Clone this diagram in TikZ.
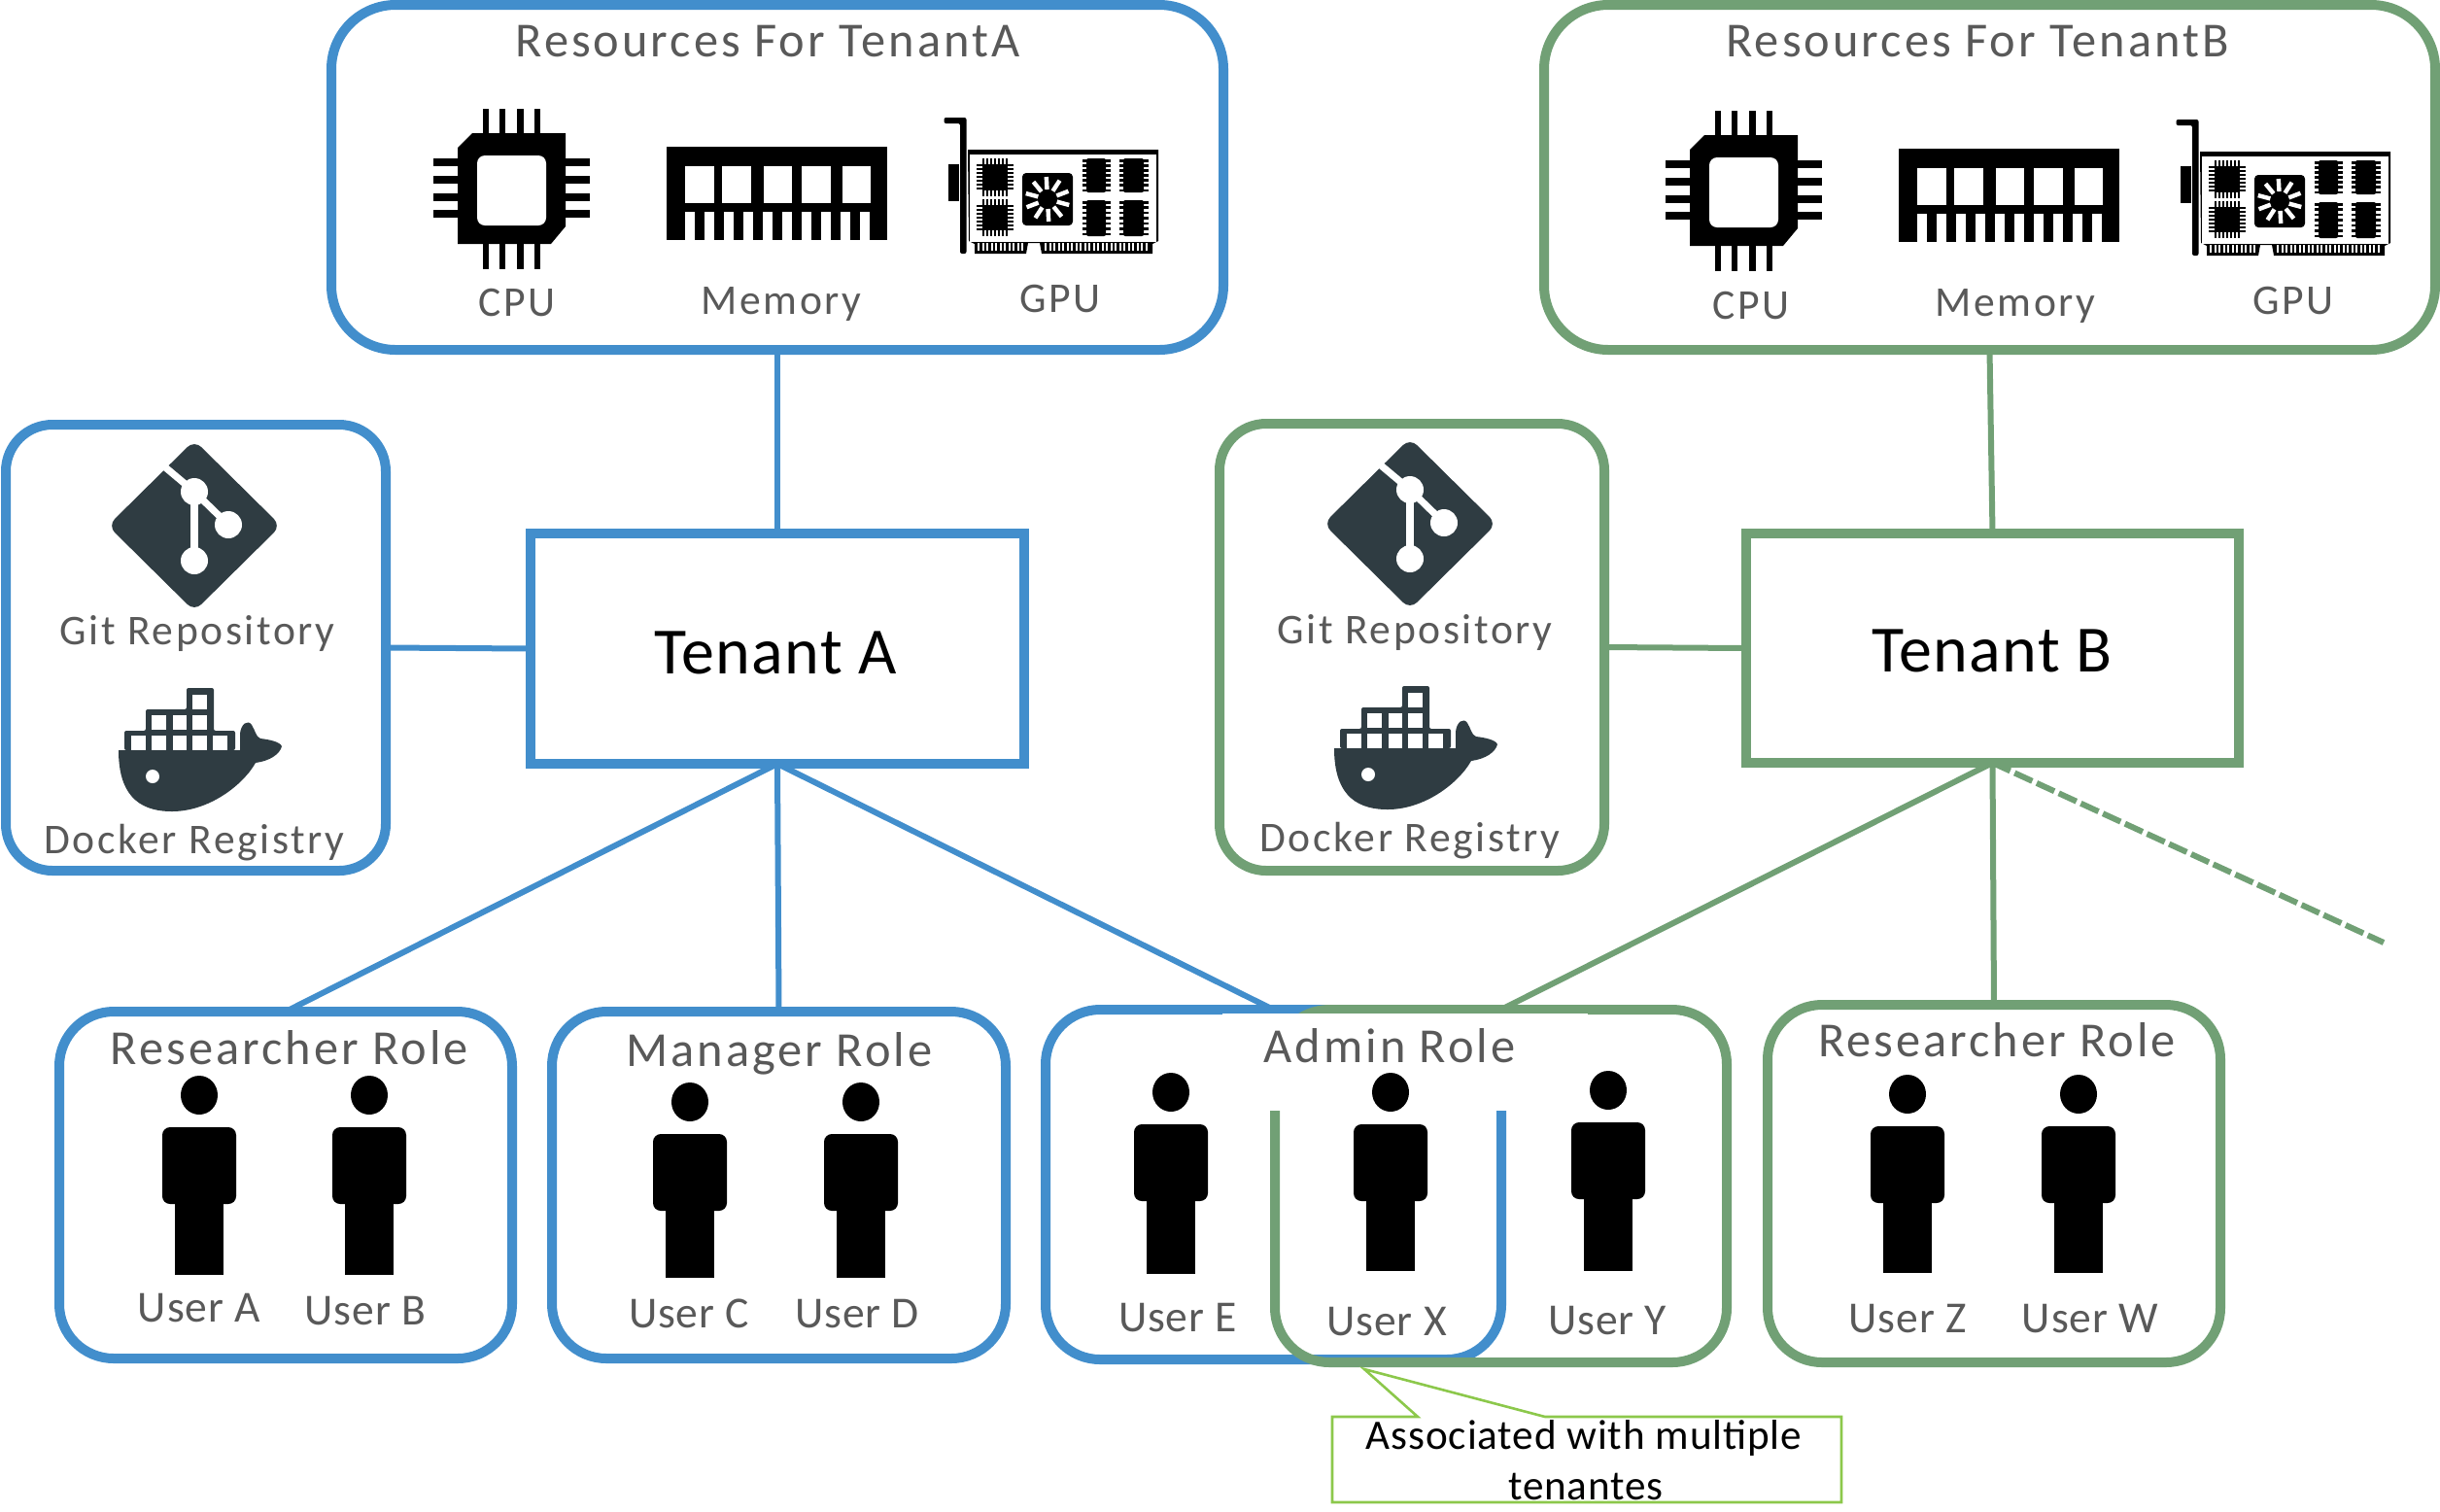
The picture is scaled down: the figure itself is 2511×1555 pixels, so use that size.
\documentclass[tikz,border=0pt]{standalone}
\usepackage{fontspec}
\setmainfont{Carlito}
\newfontfamily\lab[LetterSpace=6]{Carlito}
\newfontfamily\labw[LetterSpace=2]{Carlito}
\definecolor{tblue}{RGB}{66,142,204}
\definecolor{tgreen}{RGB}{113,160,117}
\definecolor{tgray}{RGB}{89,89,89}
\definecolor{cgreen}{RGB}{140,200,75}
\definecolor{tdark}{RGB}{47,60,66}
\tikzset{
  boxb/.style={draw,line width=5pt,fill=white,inner sep=0pt,outer sep=0pt,rectangle},
  resbox/.style={boxb,rounded corners=33pt},
  regbox/.style={boxb,rounded corners=24pt},
  rolebox/.style={boxb,rounded corners=28pt},
  tenbox/.style={boxb,line width=4.6pt},
  conn/.style={line width=3pt},
  title/.style={font=\lab\fontsize{25.2}{30}\selectfont,text=tgray,inner sep=0pt},
  sub/.style={font=\lab\fontsize{21.8}{26}\selectfont,text=tgray,inner sep=0pt},
  rolet/.style={font=\lab\fontsize{25.2}{30}\selectfont,text=tgray,inner sep=0pt},
  usert/.style={font=\labw\fontsize{22.8}{27}\selectfont,text=tgray,inner sep=0pt},
  tent/.style={font=\labw\fontsize{34}{40}\selectfont,text=black,inner sep=0pt},
  callt/.style={font=\labw\fontsize{21.6}{26}\selectfont,text=black,inner sep=0pt},
}
\newcommand\Bx[6]{\node[#6,minimum width={(#4-#2)*0.5pt},minimum height={(#5-#3)*0.5pt}] (#1) at ({(#2+#4)/2},{(#3+#5)/2}) {};}
\newcommand\Person[3]{\begin{scope}[shift={(#1,#2)}]
  \fill[black] (0,0) ellipse [x radius=19,y radius=20];
  \fill[black,rounded corners=4pt] (-38,33) rectangle (38,112);
  \fill[black] (-25,100) rectangle (25,#3);
\end{scope}}
\newcommand\IconCPU{%
  \fill[black] (486,137) -- (582,137) -- (582,233) -- (567,251) -- (471,251) -- (471,152) -- cycle;
  \fill[white,rounded corners=4pt] (491,160) rectangle (562,232);
  \foreach \xx in {500,517,535.5,553} {
    \fill[black] ({\xx-3.2},112) rectangle ({\xx+3.2},137);
    \fill[black] ({\xx-3.2},251) rectangle ({\xx+3.2},277);}
  \foreach \yy in {167,185,203,220} {
    \fill[black] (445.5,{\yy-3.7}) rectangle (471,{\yy+3.7});
    \fill[black] (582,{\yy-3.7}) rectangle (607,{\yy+3.7});}
}
\newcommand\IconMem{%
  \fill[black] (686,151) rectangle (913,247);
  \foreach \a/\b in {705/735,743/773,786/815,825/855,866.5/895.5}
    \fill[white] (\a,171) rectangle (\b,209);
  \foreach \i in {0,...,9}
    \fill[white] ({705.3+\i*20},218) rectangle ({714.8+\i*20},247.5);
}
\newcommand\SmallChip[4]{%
  \foreach \i in {0,...,6} {
    \fill[black] ({#1+\i*4},{#2-6}) rectangle ({#1+\i*4+2},{#4+6});
    \fill[black] ({#1-6},{#2+\i*4}) rectangle ({#3+6},{#2+\i*4+2});}
  \fill[black] (#1,#2) rectangle (#3,#4);
}
\newcommand\RamChip[4]{%
  \foreach \i in {0,...,6}
    \fill[black] ({#1-4.5},{#2+1+\i*(#4-#2-4.5)/6}) rectangle ({#3+4.5},{#2+3.5+\i*(#4-#2-4.5)/6});
  \fill[black,rounded corners=1pt] (#1,#2) rectangle (#3,#4);
}
\newcommand\IconGPU{%
  \fill[black,rounded corners=1pt] (971.5,121) -- (994.5,121) -- (994.5,261) -- (988,261) -- (988,127) -- (971.5,127) -- cycle;
  \fill[black] (976,169) rectangle (986.5,207);
  \fill[black] (996,154) -- (1192,154) -- (1192,248) -- (1186,251) -- (1186,261) -- (1072,261) -- (1070,250) -- (1058,250) -- (1056,261) -- (1003,261) -- (1003,251) -- (997,248) -- cycle;
  \fill[white] (998,159) rectangle (1189.5,249);
  \foreach \xx in {1006,1010.5,...,1052} \fill[white] (\xx,250) rectangle ({\xx+2.3},258);
  \foreach \xx in {1075,1079.5,...,1182} \fill[white] (\xx,250) rectangle ({\xx+2.3},258);
  \SmallChip{1011}{169}{1037}{196}
  \SmallChip{1011}{211}{1037}{237}
  \fill[black,rounded corners=2pt] (1052,178) rectangle (1104,232);
  \foreach \aa in {0,36,...,324}
    \draw[white,line width=2.2pt] ({1078+10*cos(\aa+15)},{205+10*sin(\aa+15)}) -- ({1078+23*cos(\aa+15)},{205+23*sin(\aa+15)});
  \RamChip{1118}{163}{1138}{198}
  \RamChip{1156}{163}{1177}{198}
  \RamChip{1118}{206}{1138}{243}
  \RamChip{1156}{206}{1177}{243}
}
\newcommand\IconGit{%
  \fill[tdark,rounded corners=5pt] (200,453) -- (289,541) -- (200,629) -- (111,541) -- cycle;
  \draw[white,line width=3.6pt] (169,480) -- (200,506) -- (235,540);
  \draw[white,line width=3.6pt] (200,506) -- (200,577);
  \fill[white] (200,506) circle [radius=14];
  \fill[white] (235,540) circle [radius=14];
  \fill[white] (200,577) circle [radius=14];
}
\newcommand\IconDocker{%
  \fill[tdark,rounded corners=1pt] (128,772) -- (128,752) -- (150,752) -- (150,730) -- (192,730) -- (192,708) -- (220,708) -- (220,752) -- (242,752) -- (242,772) -- cycle;
  \foreach \a/\b in {135/150,156/171,178/192,198/213,219/234} \fill[white] (\a,757) rectangle (\b,772);
  \foreach \a/\b in {156/171,178/192,198/213} \fill[white] (\a,736) rectangle (\b,750.5);
  \fill[white] (198,715) rectangle (213,730);
  \fill[tdark] (122,772) -- (247,772) -- (247,755) .. controls (248,745) and (255,740) .. (259,746) .. controls (263,752) and (263,758) .. (268,760) .. controls (276,761) and (288,763) .. (290,768) .. controls (288,776) and (278,783) .. (263,785) .. controls (250,808) and (215,835) .. (177,835) .. controls (140,835) and (122,815) .. (122,772) -- cycle;
  \fill[white] (157,799) circle [radius=7];
}
\begin{document}
\begin{tikzpicture}[x=0.5pt,y=-0.5pt]
\useasboundingbox (0,0) rectangle (2511,1555);
\fill[white] (0,0) rectangle (2511,1555);
% Boxes
\Bx{resA}{341}{5}{1259}{360}{resbox,draw=tblue}
\Bx{resB}{1589}{5}{2506}{360}{resbox,draw=tgreen}
\Bx{regA}{6}{437}{397}{896}{regbox,draw=tblue}
\Bx{regB}{1255}{436}{1651}{896}{regbox,draw=tgreen}
\Bx{tenA}{546}{549}{1054}{786}{tenbox,draw=tblue}
\Bx{tenB}{1797}{549}{2304}{785}{tenbox,draw=tgreen}
\Bx{roleA}{61}{1041}{527}{1398}{rolebox,draw=tblue}
\Bx{roleM}{568}{1041}{1035}{1398}{rolebox,draw=tblue}
\Bx{adminB}{1076}{1039}{1545}{1399}{rolebox,draw=tblue}
\Bx{adminG}{1312}{1039}{1777}{1402}{rolebox,draw=tgreen,fill=none}
\Bx{roleW}{1819}{1034}{2285}{1402}{rolebox,draw=tgreen}
% Mask where the two admin boxes merge
\fill[white] (1258,1042.5) rectangle (1634,1143);
% Connectors
\coordinate (dashEnd) at (2453,970);
\draw[conn,tblue] (resA.south) -- (tenA.north);
\draw[conn,tgreen] (resB.south) -- (tenB.north);
\draw[conn,tblue] (regA.east) -- (tenA.west);
\draw[conn,tgreen] (regB.east) -- (tenB.west);
\draw[conn,tblue] (tenA.south) -- (roleA.north);
\draw[conn,tblue] (tenA.south) -- (roleM.north);
\draw[conn,tblue] (tenA.south) -- (adminB.north);
\draw[conn,tgreen] (tenB.south) -- (adminG.north);
\draw[conn,tgreen] (tenB.south) -- (roleW.north);
\draw[conn,tgreen,dash pattern=on 10pt off 2.5pt] (tenB.south) -- (dashEnd);
% Icons
\IconCPU \IconMem \IconGPU
\begin{scope}[shift={(1268,2)}] \IconCPU \IconMem \IconGPU \end{scope}
\IconGit \IconDocker
\begin{scope}[shift={(1251,-2)}] \IconGit \IconDocker \end{scope}
% People
\Person{205}{1127}{185} \Person{380}{1127}{185} \Person{710}{1134}{181} \Person{886}{1134}{181}
\Person{1205}{1124}{187} \Person{1431}{1124}{184} \Person{1655}{1122}{186} \Person{1963}{1126}{184} \Person{2139}{1126}{184}
% Text
\node[title] (tA) at (790,43) {Resources For TenantA};
\node[sub] (cA) at (532,311) {CPU};
\node[sub] (mA) at (804,313) {Memory};
\node[sub] (gA) at (1091,307) {GPU};
\node[title] (tB) at (2035,43) {Resources For TenantB};
\node[sub] (cB) at (1802,314) {CPU};
\node[sub] (mB) at (2074,315) {Memory};
\node[sub] (gB) at (2360,309) {GPU};
\node[sub] (gitA) at (203,652) {Git Repository};
\node[sub] (dockA) at (200,867) {Docker Registry};
\node[sub] (gitB) at (1456,651) {Git Repository};
\node[sub] (dockB) at (1451,865) {Docker Registry};
\node[tent] (nA) at (798,672) {Tenant A};
\node[tent] (nB) at (2050,670) {Tenant B};
\node[rolet] (r1) at (298,1078) {Researcher Role};
\node[rolet] (r2) at (802,1084) {Manager Role};
\node[rolet] (r3) at (1430,1076) {Admin Role};
\node[rolet] (r4) at (2055,1070) {Researcher Role};
\node[usert] (ua) at (205,1346) {User A};
\node[usert] (ub) at (376,1349) {User B};
\node[usert] (uc) at (709,1352) {User C};
\node[usert] (ud) at (882,1352) {User D};
\node[usert] (ue) at (1212,1356) {User E};
\node[usert] (ux) at (1427,1360) {User X};
\node[usert] (uy) at (1654,1359) {User Y};
\node[usert] (uz) at (1963,1357) {User Z};
\node[usert] (uw) at (2151,1357) {User W};
% Callout
\draw[cgreen,line width=1.3pt,line join=miter] (1371,1458) -- (1459,1458) -- (1404,1409) -- (1590,1458) -- (1895,1458) -- (1895,1546) -- (1371,1546) -- cycle;
\node[callt] (c1) at (1630,1480) {Associated with multiple};
\node[callt] (c2) at (1632,1530) {tenantes};
\end{tikzpicture}
\end{document}
